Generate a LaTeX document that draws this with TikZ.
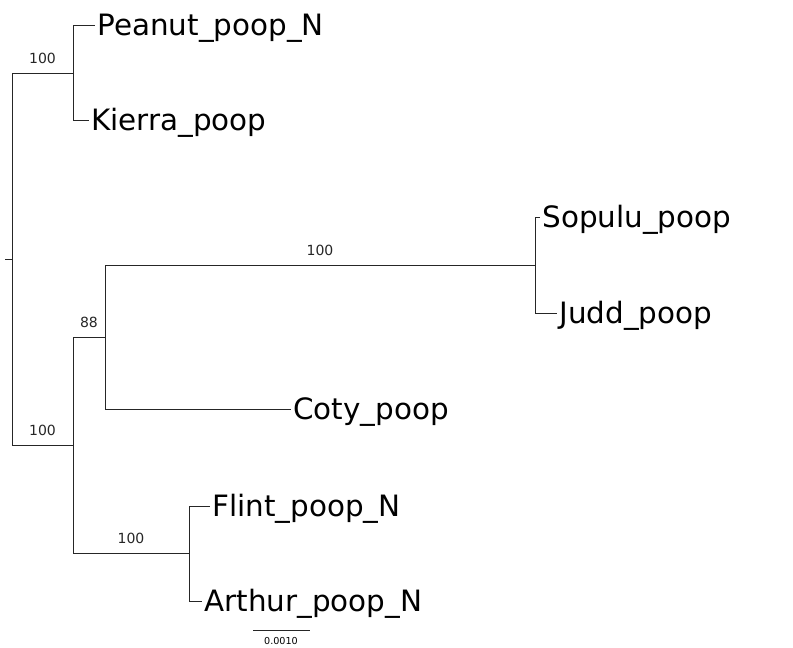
\documentclass[tikz,border=0pt]{standalone}
\usepackage{fontspec}
\setmainfont{DejaVu Sans}
\usetikzlibrary{positioning}

\begin{document}
\begin{tikzpicture}[x=0.5pt,y=-0.5pt,br/.style={line width=0.5pt,black!85},
  leaf/.style={anchor=west,inner sep=1pt,text height=10.7pt,text depth=0pt,font=\fontsize{14.7}{17}\selectfont},
  supp/.style={above=2.5pt,inner sep=2pt,pos=0.75,font=\fontsize{7}{8}\selectfont}]
\useasboundingbox (0,0) rectangle (793,648);
% internal nodes
\coordinate (root) at (12,259);\coordinate (tick) at (5,259);
\coordinate (n1) at (73,73);\coordinate (n2) at (73,445);
\coordinate (n3) at (105,337);\coordinate (n4) at (535,265);
\coordinate (n5) at (189,553);
% tips
\node[leaf](peanut) at (95,25){Peanut\_poop\_N};
\node[leaf](kierra) at (89,120){Kierra\_poop};
\node[leaf](sopulu) at (540,217){Sopulu\_poop};
\node[leaf](judd) at (557,313){Judd\_poop};
\node[leaf](coty) at (291,409){Coty\_poop};
\node[leaf](flint) at (210,506){Flint\_poop\_N};
\node[leaf](arthur) at (202,601){Arthur\_poop\_N};
% branches
\draw[br](tick)--(root);
\draw[br](root)|-node[supp]{100}(n1);\draw[br](root)|-node[supp]{100}(n2);
\draw[br](n1)|-(peanut.west);\draw[br](n1)|-(kierra.west);
\draw[br](n2)|-node[supp]{88}(n3);\draw[br](n2)|-node[supp]{100}(n5);
\draw[br](n3)|-node[supp]{100}(n4);\draw[br](n3)|-(coty.west);
\draw[br](n4)|-(sopulu.west);\draw[br](n4)|-(judd.west);
\draw[br](n5)|-(flint.west);\draw[br](n5)|-(arthur.west);
% scale bar
\coordinate (sbl) at (253,630);\coordinate (sbr) at (310,630);
\draw[br](sbl)--(sbr);
\node[font=\fontsize{4.8}{6}\selectfont,inner sep=0pt](sblab) at (281,641){0.0010};
\end{tikzpicture}
\end{document}
